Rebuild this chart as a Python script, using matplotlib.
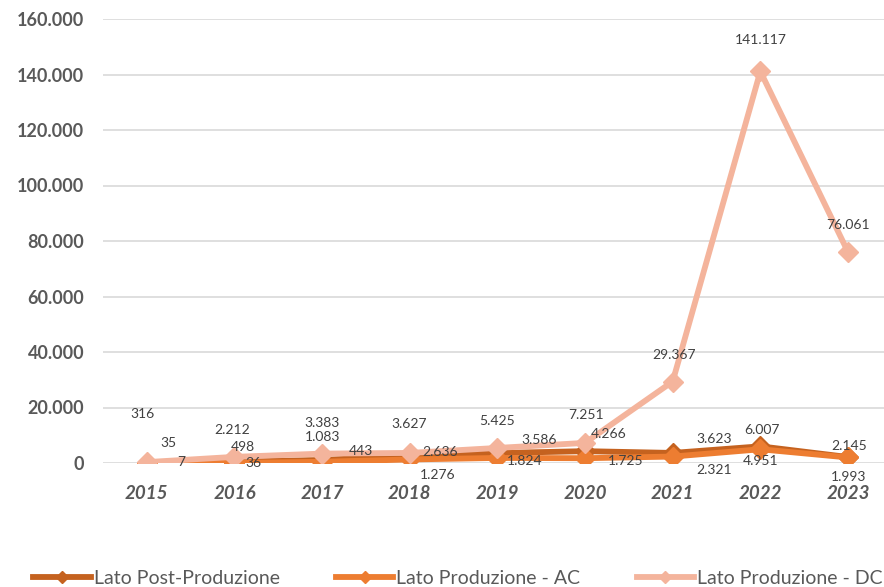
import matplotlib
matplotlib.use("Agg")
import matplotlib.pyplot as plt
from matplotlib.ticker import FuncFormatter

plt.rcParams['font.family'] = ['Lato', 'DejaVu Sans']

years = ["2015", "2016", "2017", "2018", "2019", "2020", "2021", "2022", "2023"]
post_prod = [35, 498, 1083, 2636, 3586, 4266, 3623, 6007, 2145]
prod_ac = [7, 36, 443, 1276, 1824, 1725, 2321, 4951, 1993]
prod_dc = [316, 2212, 3383, 3627, 5425, 7251, 29367, 141117, 76061]

# label offsets in pixels (dx, dy up), placed by hand like the original
off_post = [(22, 20), (8, 15), (0, 23), (30, 4), (42, 13), (24, 17), (41, 14), (2, 16), (1, 11)]
off_ac = [(34, 1), (19, 0), (39, 11), (28, -16), (27, -3), (41, -3), (41, -13), (0, -12), (1, -20)]
off_dc = [(-4, 48), (-2, 27), (0, 31), (-1, 29), (0, 27), (1, 28), (1, 27), (0, 31), (0, 27)]

W, H = 884, 587
fig = plt.figure(figsize=(W / 100, H / 100), dpi=100)
ax = fig.add_axes([103 / W, 1 - 463 / H, (884 - 103) / W, (463 - 19) / H])

x = list(range(len(years)))
series = [
    ("Lato Post-Produzione", post_prod, "#C5621F", off_post),
    ("Lato Produzione - AC", prod_ac, "#ED7D31", off_ac),
    ("Lato Produzione - DC", prod_dc, "#F4B49C", off_dc),
]

def it(v):
    return f"{int(v):,}".replace(",", ".")

for name, vals, col, offs in series:
    ax.plot(x, vals, color=col, lw=4.2, marker="D", ms=10.5, mec=col, mfc=col,
            label=name, solid_joinstyle="miter", zorder=3)
    for xi, v, (dx, dy) in zip(x, vals, offs):
        ax.annotate(it(v), (xi, v), xytext=(dx, dy), textcoords="offset pixels",
                    ha="center", va="center", fontsize=10, color="#404040", zorder=5)

ax.set_xlim(-0.5, 8 + (884 - 848) / 87.6)
ax.set_ylim(0, 160000)
ax.set_yticks(range(0, 160001, 20000))
ax.yaxis.set_major_formatter(FuncFormatter(lambda v, p: it(v)))
ax.set_xticks(x)
ax.set_xticklabels(years)
ax.grid(axis="y", color="#D9D9D9", lw=1.2)
ax.set_axisbelow(True)
for s in ax.spines.values():
    s.set_visible(False)
ax.tick_params(length=0)
ax.tick_params(axis="y", pad=13.5, labelsize=13, labelcolor="#595959")
ax.tick_params(axis="x", pad=15.5, labelsize=13.5, labelcolor="#595959")
for t in ax.get_yticklabels():
    t.set_fontweight("bold")
for t in ax.get_xticklabels():
    t.set_fontweight("bold")
    t.set_fontstyle("italic")

fig.legend(loc="center", bbox_to_anchor=(458 / W, 1 - 578 / H), ncol=3, frameon=False,
           fontsize=14, labelcolor="#595959", handlelength=2.95, handletextpad=0.15,
           columnspacing=2.9, markerscale=0.6)

fig.savefig("out.png", dpi=100)
